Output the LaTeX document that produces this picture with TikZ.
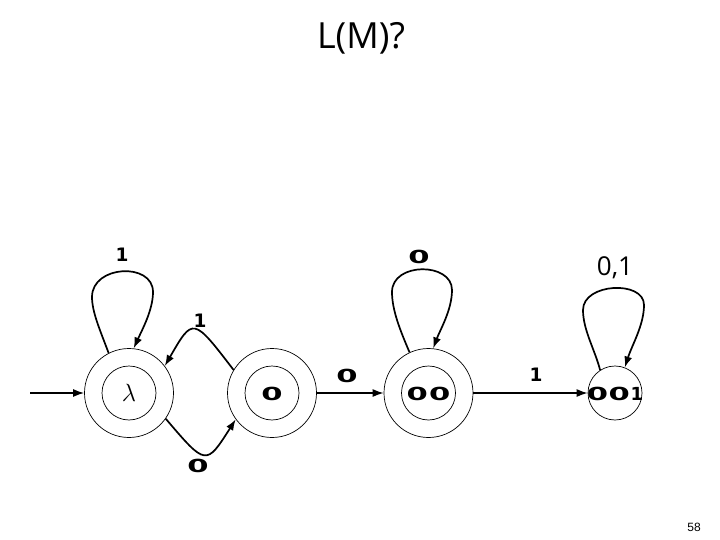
\documentclass[tikz,border=0pt]{standalone}
\usepackage{fontspec}
\newfontfamily\ttlfont{Open Sans}
\newfontfamily\pgfontx{Liberation Sans}
\newfontfamily\lblfont{DejaVu Sans}
\usetikzlibrary{arrows.meta}
\newcommand{\zro}{\scalebox{1.7}[1]{0}}
\begin{document}
\begin{tikzpicture}[x=1pt,y=-1pt,
  outer/.style={circle,draw,line width=0.7pt,minimum size=89pt,inner sep=0pt},
  innr/.style={circle,draw,line width=0.7pt,minimum size=54pt,inner sep=0pt},
  edge/.style={line width=1.7pt,-{Latex[length=11pt,width=8pt]}},
  sedge/.style={line width=1.4pt,-{Latex[length=11pt,width=8pt]}},
  lbl/.style={font=\fontsize{18}{18}\lblfont\bfseries,inner sep=0pt},
  lblone/.style={font=\fontsize{18.5}{18.5}\lblfont\bfseries,inner sep=0pt}]
\useasboundingbox (0,0) rectangle (720,540);
% title
\node[font=\fontsize{36}{36}\ttlfont] (title) at (361,38) {L(M)?};
% states
\node[outer] (L) at (129,393) {};
\node[innr] (Li) at (129,393) {\fontsize{25}{25}\selectfont$\lambda$};
\node[outer] (A) at (272,393) {};
\node[innr] (Ai) at (272,393) {};
\node[lbl] (At) at (272,394) {\zro};
\node[outer] (B) at (428.5,393) {};
\node[innr] (Bi) at (428.5,393) {};
\node[lbl] (Bt) at (428.5,394) {\zro\hspace{1pt}\zro};
\node[innr] (C) at (615,393) {};
\node[lbl] (Ct) at (615,394) {\zro\hspace{0.5pt}\zro\hspace{0.5pt}1};
% initial arrow
\coordinate (s) at (30,393);
\draw[sedge] (s) -- (L.west);
% edges
\draw[edge] (L.-35) .. controls (206,466) .. (A.-144);
\draw[edge] (A.149) .. controls (193,317) .. (L.37);
\draw[sedge] (A.east) -- (B.west);
\draw[sedge] (B.east) -- (C.west);
% loops
\draw[edge] (L.117) .. controls (100,330) and (92,312) .. (92,297)
  .. controls (92,265) and (153,262) .. (153,292)
  .. controls (153,310) and (142,330) .. (L.84);
\draw[edge] (B.115) .. controls (400,330) and (392,310) .. (392,292)
  .. controls (392,262) and (452,262) .. (452,290)
  .. controls (452,310) and (440,330) .. (B.84);
\draw[edge] (C.123) .. controls (595,350) and (583,330) .. (583,310)
  .. controls (583,283) and (644,280) .. (644,305)
  .. controls (644,325) and (632,345) .. (C.69);
% labels
\node[lblone] (l1) at (122,255) {1};
\node[lblone] (l2) at (200,321) {1};
\node[lbl] (l3) at (198,466) {\zro};
\node[lbl] (l4) at (347,376) {\zro};
\node[lbl] (l5) at (419,257) {\zro};
\node[lblone] (l6) at (536,375) {1};
\node[font=\fontsize{26}{26}\ttlfont,inner sep=0pt] (l7) at (615,268) {0,1};
% page number
\node[font=\fontsize{12}{12}\pgfontx] (pg) at (694,527) {58};
\end{tikzpicture}
\end{document}
